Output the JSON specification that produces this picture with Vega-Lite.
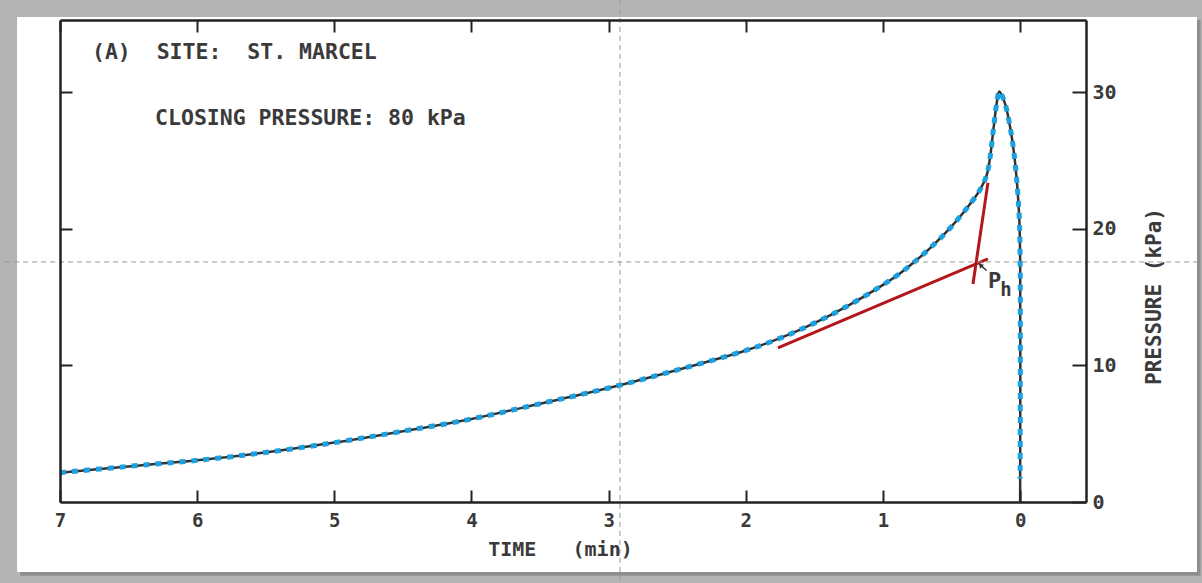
{
  "$schema": "https://vega.github.io/schema/vega-lite/v6.json",
  "width": 1026,
  "height": 482,
  "autosize": {"type": "none"},
  "padding": {"left": 60, "top": 20, "right": 116, "bottom": 81},
  "background": "#b4b4b4",
  "config": {"view": {"stroke": null}},
  "datasets": {
    "panel": [{"t": 7.313, "t2": -1.289, "p": 35.52, "p2": -5.13}],
    "shadow": [{"t": 7.29, "t2": -1.315, "p": 35.3, "p2": -5.4}],
    "curve": [
      {"i": 1, "t": 7.0, "p": 2.15},
      {"i": 2, "t": 6.71, "p": 2.42},
      {"i": 3, "t": 6.4, "p": 2.7},
      {"i": 4, "t": 6.0, "p": 3.05},
      {"i": 5, "t": 5.52, "p": 3.6},
      {"i": 6, "t": 5.0, "p": 4.35},
      {"i": 7, "t": 4.52, "p": 5.15},
      {"i": 8, "t": 4.0, "p": 6.08},
      {"i": 9, "t": 3.5, "p": 7.2},
      {"i": 10, "t": 3.0, "p": 8.35},
      {"i": 11, "t": 2.5, "p": 9.67},
      {"i": 12, "t": 2.0, "p": 11.1},
      {"i": 13, "t": 1.75, "p": 12.0},
      {"i": 14, "t": 1.5, "p": 13.1},
      {"i": 15, "t": 1.25, "p": 14.4},
      {"i": 16, "t": 1.0, "p": 15.9},
      {"i": 17, "t": 0.877, "p": 16.74},
      {"i": 18, "t": 0.755, "p": 17.72},
      {"i": 19, "t": 0.635, "p": 18.8},
      {"i": 20, "t": 0.51, "p": 20.07},
      {"i": 21, "t": 0.39, "p": 21.5},
      {"i": 22, "t": 0.293, "p": 22.86},
      {"i": 23, "t": 0.244, "p": 23.94},
      {"i": 24, "t": 0.22, "p": 25.2},
      {"i": 25, "t": 0.196, "p": 27.2},
      {"i": 26, "t": 0.171, "p": 29.2},
      {"i": 27, "t": 0.152, "p": 30.06},
      {"i": 28, "t": 0.111, "p": 29.2},
      {"i": 29, "t": 0.074, "p": 27.5},
      {"i": 30, "t": 0.045, "p": 25.55},
      {"i": 31, "t": 0.021, "p": 23.1},
      {"i": 32, "t": 0.006, "p": 20.66},
      {"i": 33, "t": 0.0, "p": 17.7},
      {"i": 34, "t": 0.0, "p": 1.7},
      {"i": 35, "t": 0.0, "p": 0.0}
    ],
    "red": [
      {"t": 1.766, "p": 11.28, "t2": 0.235, "p2": 17.8},
      {"t": 0.235, "p": 23.37, "t2": 0.344, "p2": 15.97}
    ],
    "arrow": [{"t": 0.245, "p": 16.95, "t2": 0.29, "p2": 17.35}],
    "tip": [{"t": 0.29, "p": 17.35}],
    "notes": [
      {"t": 6.767, "p": 32.9, "label": "(A)\u00a0\u00a0SITE:\u00a0\u00a0ST.\u00a0MARCEL", "size": 21.5},
      {"t": 6.307, "p": 28.06, "label": "CLOSING\u00a0PRESSURE:\u00a080\u00a0kPa", "size": 21.5},
      {"t": 0.235, "p": 16.15, "label": "P", "size": 22},
      {"t": 0.145, "p": 15.5, "label": "h", "size": 19}
    ],
    "cross": [
      {"t": 2.918, "t2": 2.918, "p": 36.77, "p2": -5.93},
      {"t": 7.4, "t2": -1.33, "p": 17.58, "p2": 17.58}
    ]
  },
  "resolve": {"axis": {"x": "independent", "y": "independent"}},
  "encoding": {
    "x": {"field": "t", "type": "quantitative", "axis": null,
          "scale": {"domain": [-0.48, 7], "reverse": true, "nice": false, "zero": false}},
    "y": {"field": "p", "type": "quantitative", "axis": null,
          "scale": {"domain": [0, 35.3], "nice": false, "zero": false}}
  },
  "layer": [
    {
      "data": {"name": "shadow"},
      "mark": {"type": "rect", "color": "#8f8f8f", "clip": false},
      "encoding": {"x2": {"field": "t2"}, "y2": {"field": "p2"}}
    },
    {
      "data": {"name": "panel"},
      "mark": {"type": "rect", "color": "#ffffff", "clip": false},
      "encoding": {"x2": {"field": "t2"}, "y2": {"field": "p2"}}
    },
    {
      "data": {"name": "curve"},
      "mark": {"type": "line", "color": "#333333", "strokeWidth": 2.5, "interpolate": "catmull-rom", "clip": false},
      "encoding": {
        "order": {"field": "i", "type": "quantitative"},
        "x": {"field": "t", "type": "quantitative",
              "scale": {"domain": [-0.48, 7], "reverse": true, "nice": false, "zero": false},
              "axis": {"orient": "bottom", "values": [0, 1, 2, 3, 4, 5, 6, 7], "format": "d",
                       "zindex": 1, "grid": false, "tickSize": -12, "tickWidth": 2, "tickColor": "#222",
                       "domainColor": "#222", "domainWidth": 2.5, "labelFont": "DejaVu Sans Mono",
                       "labelFontSize": 19, "labelFontWeight": "bold", "labelColor": "#3a3a3a", "labelPadding": 21,
                       "labelFlush": false, "labelOverlap": false,
                       "title": "TIME\u00a0\u00a0\u00a0(min)", "titleFont": "DejaVu Sans Mono", "titleFontSize": 20,
                       "titleFontWeight": "bold", "titleColor": "#3a3a3a", "titleX": 500, "titleY": 47,
                       "titleBaseline": "middle", "titleAlign": "center", "titleAnchor": null}},
        "y": {"field": "p", "type": "quantitative",
              "scale": {"domain": [0, 35.3], "nice": false, "zero": false},
              "axis": {"orient": "right", "values": [0, 10, 20, 30], "format": "d",
                       "zindex": 1, "grid": false, "tickSize": -14, "tickWidth": 2, "tickColor": "#222",
                       "domainColor": "#222", "domainWidth": 2.5, "labelFont": "DejaVu Sans Mono",
                       "labelFontSize": 20, "labelFontWeight": "bold", "labelColor": "#3a3a3a", "labelPadding": 20,
                       "labelFlush": false, "labelOverlap": false,
                       "title": "PRESSURE\u00a0(kPa)", "titleFont": "DejaVu Sans Mono", "titleFontSize": 21,
                       "titleFontWeight": "bold", "titleColor": "#3a3a3a", "titleAngle": 270,
                       "titleX": 68, "titleY": 276, "titleBaseline": "middle", "titleAlign": "center",
                       "titleAnchor": null}}
      }
    },
    {
      "data": {"name": "curve"},
      "transform": [{"filter": "datum.i <= 34"}],
      "mark": {"type": "line", "color": "#1ba1e2", "strokeWidth": 5, "strokeDash": [6, 6], "strokeCap": "butt", "interpolate": "catmull-rom", "clip": false},
      "encoding": {
        "order": {"field": "i", "type": "quantitative"},
        "x": {"field": "t", "type": "quantitative",
              "scale": {"domain": [-0.48, 7], "reverse": true, "nice": false, "zero": false},
              "axis": {"orient": "top", "values": [0, 1, 2, 3, 4, 5, 6, 7], "labels": false,
                       "zindex": 1, "grid": false, "tickSize": -12, "tickWidth": 2, "tickColor": "#222",
                       "domainColor": "#222", "domainWidth": 2.5, "title": null}},
        "y": {"field": "p", "type": "quantitative",
              "scale": {"domain": [0, 35.3], "nice": false, "zero": false},
              "axis": {"orient": "left", "values": [10, 20, 30], "labels": false,
                       "zindex": 1, "grid": false, "tickSize": -12, "tickWidth": 2, "tickColor": "#222",
                       "domainColor": "#222", "domainWidth": 2.5, "title": null}}
      }
    },
    {
      "data": {"name": "red"},
      "mark": {"type": "rule", "color": "#b3161b", "strokeWidth": 3, "clip": false},
      "encoding": {"x2": {"field": "t2"}, "y2": {"field": "p2"}}
    },
    {
      "data": {"name": "arrow"},
      "mark": {"type": "rule", "color": "#333", "strokeWidth": 1.5, "clip": false},
      "encoding": {"x2": {"field": "t2"}, "y2": {"field": "p2"}}
    },
    {
      "data": {"name": "tip"},
      "mark": {"type": "point", "shape": "triangle-up", "angle": -45, "filled": true, "color": "#333", "size": 30, "opacity": 1, "clip": false},
      "encoding": {}
    },
    {
      "data": {"name": "notes"},
      "mark": {"type": "text", "align": "left", "baseline": "middle", "font": "DejaVu Sans Mono", "fontWeight": "bold", "color": "#3a3a3a", "clip": false},
      "encoding": {
        "text": {"field": "label"},
        "size": {"field": "size", "type": "quantitative", "scale": null}
      }
    },
    {
      "data": {"name": "cross"},
      "mark": {"type": "rule", "color": "#999999", "strokeWidth": 1, "strokeDash": [5, 4], "clip": false},
      "encoding": {"x2": {"field": "t2"}, "y2": {"field": "p2"}}
    }
  ]
}
